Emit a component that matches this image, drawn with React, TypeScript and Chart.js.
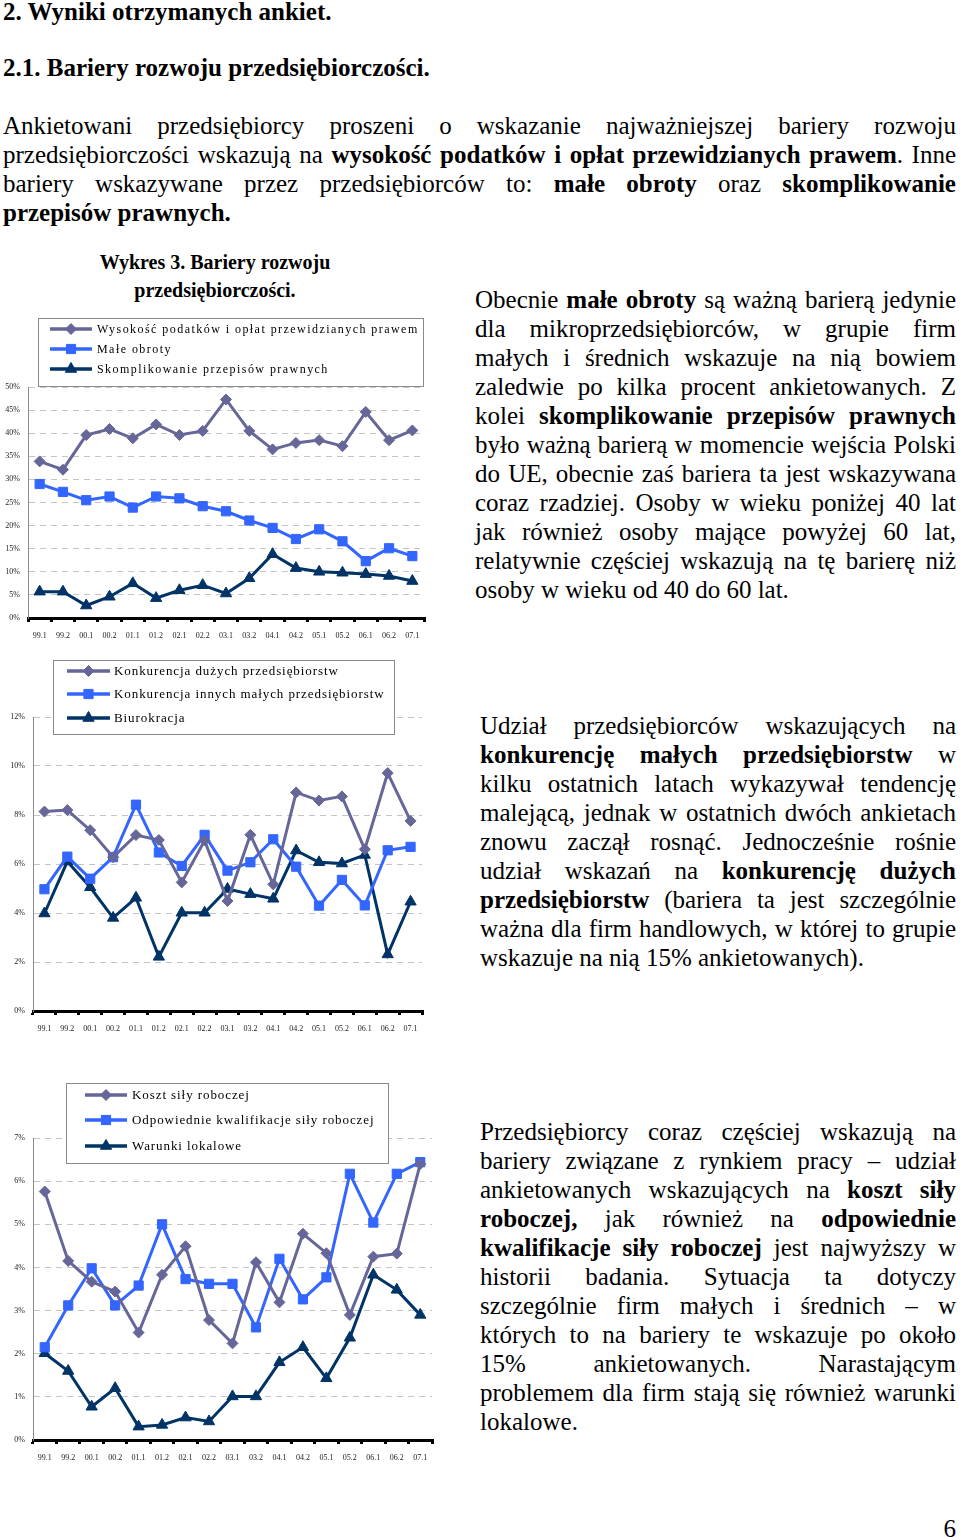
import React, { useEffect, useRef } from 'react';
import { Chart, registerables } from 'chart.js';
import { drawPoint } from 'chart.js/helpers';

Chart.register(...registerables);

// ---------- DATA ----------
const categories = ['99.1', '99.2', '00.1', '00.2', '01.1', '01.2', '02.1', '02.2', '03.1', '03.2', '04.1', '04.2', '05.1', '05.2', '06.1', '06.2', '07.1'];

// Chart 1 – Bariery rozwoju przedsiębiorczości (%)
const chart1Labels = ['Wysokość podatków i opłat przewidzianych prawem', 'Małe obroty', 'Skomplikowanie przepisów prawnych'];
const taxes = [33.9, 32.1, 39.6, 40.9, 38.9, 41.9, 39.6, 40.5, 47.3, 40.5, 36.5, 37.9, 38.5, 37.2, 44.6, 38.5, 40.6];
const lowTurnover = [29.0, 27.3, 25.5, 26.3, 23.9, 26.3, 25.9, 24.2, 23.1, 21.1, 19.5, 17.1, 19.2, 16.6, 12.3, 15.1, 13.4];
const complexLaw = [5.7, 5.7, 2.7, 4.6, 7.5, 4.3, 6.0, 7.1, 5.3, 8.6, 13.8, 10.8, 10.0, 9.8, 9.5, 9.1, 8.0];

// Chart 2
const chart2Labels = ['Konkurencja dużych przedsiębiorstw', 'Konkurencja innych małych przedsiębiorstw', 'Biurokracja'];
const bigCompetition = [8.14, 8.2, 7.38, 6.28, 7.18, 6.98, 5.25, 6.96, 4.49, 7.19, 5.17, 8.92, 8.59, 8.76, 6.6, 9.71, 7.76];
const smallCompetition = [4.97, 6.3, 5.4, 6.28, 8.42, 6.47, 5.92, 7.19, 5.73, 6.07, 7.01, 5.89, 4.3, 5.35, 4.31, 6.56, 6.7];
const bureaucracy = [3.98, 6.1, 5.05, 3.8, 4.62, 2.21, 4.01, 4.01, 4.98, 4.77, 4.58, 6.55, 6.07, 6.02, 6.37, 2.31, 4.46];

// Chart 3
const chart3Labels = ['Koszt siły roboczej', 'Odpowiednie kwalifikacje siły roboczej', 'Warunki lokalowe'];
const laborCost = [5.76, 4.15, 3.67, 3.44, 2.49, 3.83, 4.49, 2.78, 2.24, 4.12, 3.19, 4.78, 4.33, 2.9, 4.25, 4.32, 6.4];
const qualifications = [2.15, 3.12, 3.98, 3.12, 3.58, 5.0, 3.73, 3.62, 3.62, 2.61, 4.2, 3.26, 3.77, 6.17, 5.04, 6.17, 6.44];
const premises = [2.01, 1.6, 0.77, 1.2, 0.31, 0.35, 0.52, 0.43, 1.01, 1.01, 1.8, 2.15, 1.43, 2.37, 3.83, 3.48, 2.9];

// y axis ranges
const chart1YAxis = { max: 50, step: 5 };
const chart2YAxis = { max: 12, step: 2 };
const chart3YAxis = { max: 7, step: 1 };

// ---------- TEXT ----------
const heading1 = '2. Wyniki otrzymanych ankiet.';
const heading2 = '2.1. Bariery rozwoju przedsiębiorczości.';
const introLines = [
  'Ankietowani przedsiębiorcy proszeni o wskazanie najważniejszej bariery rozwoju',
  'przedsiębiorczości wskazują na **wysokość podatków i opłat przewidzianych prawem**. Inne',
  'bariery wskazywane przez przedsiębiorców to: **małe obroty** oraz **skomplikowanie**',
  '**przepisów prawnych.**',
];
const block1Lines = [
  'Obecnie **małe obroty** są ważną barierą jedynie',
  'dla mikroprzedsiębiorców, w grupie firm',
  'małych i średnich wskazuje na nią bowiem',
  'zaledwie po kilka procent ankietowanych. Z',
  'kolei **skomplikowanie przepisów prawnych**',
  'było ważną barierą w momencie wejścia Polski',
  'do UE, obecnie zaś bariera ta jest wskazywana',
  'coraz rzadziej. Osoby w wieku poniżej 40 lat',
  'jak również osoby mające powyżej 60 lat,',
  'relatywnie częściej wskazują na tę barierę niż',
  'osoby w wieku od 40 do 60 lat.',
];
const block2Lines = [
  'Udział przedsiębiorców wskazujących na',
  '**konkurencję małych przedsiębiorstw** w',
  'kilku ostatnich latach wykazywał tendencję',
  'malejącą, jednak w ostatnich dwóch ankietach',
  'znowu zaczął rosnąć. Jednocześnie rośnie',
  'udział wskazań na **konkurencję dużych**',
  '**przedsiębiorstw** (bariera ta jest szczególnie',
  'ważna dla firm handlowych, w której to grupie',
  'wskazuje na nią 15% ankietowanych).',
];
const block3Lines = [
  'Przedsiębiorcy coraz częściej wskazują na',
  'bariery związane z rynkiem pracy – udział',
  'ankietowanych wskazujących na **koszt siły**',
  '**roboczej,** jak również na **odpowiednie**',
  '**kwalifikacje siły roboczej** jest najwyższy w',
  'historii badania. Sytuacja ta dotyczy',
  'szczególnie firm małych i średnich – w',
  'których to na bariery te wskazuje po około',
  '15% ankietowanych. Narastającym',
  'problemem dla firm stają się również warunki',
  'lokalowe.',
];

// ---------- STYLE ----------
const SERIF = "'Liberation Serif', 'Times New Roman', serif";
const COLORS = ['#666699', '#3366FF', '#003366'];
const STYLES = ['rectRot', 'rect', 'triangle'];
const RADII = [5.5, 6.5, 6.5];
const BODY_FONT = 25;

const boxLegend = {
  id: 'boxLegend',
  beforeDatasetsDraw(chart: any, _args: any, opts: any) {
    if (!opts || !opts.box) return;
    const ctx = chart.ctx;
    const box = opts.box;
    ctx.save();
    ctx.fillStyle = '#ffffff';
    ctx.fillRect(box.x, box.y, box.w, box.h);
    ctx.strokeStyle = '#8a8a8a';
    ctx.lineWidth = 1;
    ctx.strokeRect(box.x + 0.5, box.y + 0.5, box.w, box.h);
    chart.data.datasets.forEach((ds: any, i: number) => {
      const ry = opts.rows[i];
      ctx.strokeStyle = ds.borderColor;
      ctx.lineWidth = 3.5;
      ctx.beginPath();
      ctx.moveTo(opts.lineX1, ry);
      ctx.lineTo(opts.lineX2, ry);
      ctx.stroke();
      ctx.fillStyle = ds.backgroundColor;
      ctx.lineWidth = 1;
      drawPoint(ctx, { pointStyle: ds.pointStyle, radius: ds.pointRadius, borderWidth: 1, rotation: 0 } as any, (opts.lineX1 + opts.lineX2) / 2, ry);
      ctx.fillStyle = '#000000';
      ctx.font = opts.font;
      (ctx as any).letterSpacing = opts.spacing + 'px';
      ctx.textBaseline = 'middle';
      ctx.textAlign = 'left';
      ctx.fillText(ds.label, opts.textX, ry + 1);
    });
    ctx.restore();
  },
};

type ChartProps = {
  top: number;
  width: number;
  height: number;
  yWidth: number;
  pad: { top: number; right: number; bottom: number };
  yAxis: { max: number; step: number };
  labels: string[];
  series: number[][];
  legend: any;
};

function LineChart(p: ChartProps) {
  const ref = useRef<HTMLCanvasElement | null>(null);
  useEffect(() => {
    if (!ref.current) return;
    const chart = new Chart(ref.current, {
      type: 'line',
      data: {
        labels: categories,
        datasets: p.series.map((d, i) => ({
          label: p.labels[i],
          data: d,
          borderColor: COLORS[i],
          backgroundColor: COLORS[i],
          pointBackgroundColor: COLORS[i],
          pointBorderColor: COLORS[i],
          pointStyle: STYLES[i] as any,
          pointRadius: RADII[i],
          pointBorderWidth: 1,
          borderWidth: 3,
          tension: 0,
        })),
      },
      options: {
        responsive: false,
        animation: false,
        devicePixelRatio: 1,
        layout: { padding: { top: p.pad.top, right: p.pad.right, bottom: p.pad.bottom, left: 0 } },
        plugins: {
          legend: { display: false },
          tooltip: { enabled: false },
          boxLegend: p.legend,
        } as any,
        scales: {
          x: {
            offset: true,
            grid: { offset: true, drawOnChartArea: false, color: '#000', lineWidth: 3, tickLength: 4 },
            border: { color: '#000', width: 3 },
            ticks: { font: { family: SERIF, size: 8 }, color: '#222', maxRotation: 0, minRotation: 0, autoSkip: false, padding: 9 },
            afterFit: (s: any) => { s.height = 20; },
          },
          y: {
            min: 0,
            max: p.yAxis.max,
            ticks: { stepSize: p.yAxis.step, callback: (v: any) => v + '%', font: { family: SERIF, size: 8 }, color: '#222', padding: 8 },
            grid: { color: '#c4c4c4', drawTicks: false, lineWidth: 1 },
            border: { color: '#8a8a8a', width: 1, dash: [6, 5] } as any,
            afterFit: (s: any) => { s.width = p.yWidth; },
          },
        } as any,
      },
      plugins: [boxLegend],
    });
    return () => chart.destroy();
  }, []);
  return (
    <canvas
      ref={ref}
      width={p.width}
      height={p.height}
      style={{ position: 'absolute', left: 0, top: p.top, width: p.width, height: p.height }}
    />
  );
}

function renderLine(line: string) {
  return line.split('**').map((t, i) =>
    i % 2 === 1 ? <b key={i}>{t}</b> : <span key={i}>{t}</span>
  );
}

function TextBlock({ lines, left, top, width }: { lines: string[]; left: number; top: number; width: number }) {
  return (
    <div style={{ position: 'absolute', left, top, width, fontSize: BODY_FONT, lineHeight: '29px' }}>
      {lines.map((ln, i) => (
        <div
          key={i}
          style={{
            height: 29,
            whiteSpace: 'nowrap',
            textAlign: 'justify',
            textAlignLast: i === lines.length - 1 ? 'left' : 'justify',
          } as any}
        >
          {renderLine(ln)}
        </div>
      ))}
    </div>
  );
}

export default function App() {
  return (
    <div
      style={{
        position: 'absolute',
        left: 0,
        top: 0,
        width: 960,
        height: 1537,
        background: '#fff',
        fontFamily: SERIF,
        color: '#000',
        overflow: 'hidden',
      }}
    >
      <div style={{ position: 'absolute', left: 3, top: -3, fontSize: BODY_FONT, lineHeight: '29px', fontWeight: 'bold' }}>{heading1}</div>
      <div style={{ position: 'absolute', left: 3, top: 53, fontSize: BODY_FONT, lineHeight: '29px', fontWeight: 'bold' }}>{heading2}</div>
      <TextBlock lines={introLines} left={3} top={111} width={953} />

      <div
        style={{
          position: 'absolute',
          left: 0,
          top: 248,
          width: 430,
          textAlign: 'center',
          fontSize: 20,
          lineHeight: '28px',
          fontWeight: 'bold',
        }}
      >
        Wykres 3. Bariery rozwoju
        <br />
        przedsiębiorczości.
      </div>

      <LineChart
        top={300}
        width={440}
        height={350}
        yWidth={28}
        pad={{ top: 87, right: 16, bottom: 12 }}
        yAxis={chart1YAxis}
        labels={chart1Labels}
        series={[taxes, lowTurnover, complexLaw]}
        legend={{ box: { x: 38, y: 18, w: 385, h: 68 }, rows: [29, 49, 69], lineX1: 50, lineX2: 92, textX: 97, font: `12px ${SERIF}`, spacing: 1.45 }}
      />
      <TextBlock lines={block1Lines} left={475} top={285} width={481} />

      <LineChart
        top={650}
        width={440}
        height={400}
        yWidth={33}
        pad={{ top: 67, right: 18, bottom: 19 }}
        yAxis={chart2YAxis}
        labels={chart2Labels}
        series={[bigCompetition, smallCompetition, bureaucracy]}
        legend={{ box: { x: 53, y: 10, w: 341, h: 74 }, rows: [21, 44, 68], lineX1: 67, lineX2: 110, textX: 114, font: `13px ${SERIF}`, spacing: 0.92 }}
      />
      <TextBlock lines={block2Lines} left={480} top={711} width={476} />

      <LineChart
        top={1075}
        width={440}
        height={410}
        yWidth={33}
        pad={{ top: 63, right: 8, bottom: 25 }}
        yAxis={chart3YAxis}
        labels={chart3Labels}
        series={[laborCost, qualifications, premises]}
        legend={{ box: { x: 66, y: 8, w: 322, h: 80 }, rows: [20, 45, 71], lineX1: 85, lineX2: 127, textX: 132, font: `13px ${SERIF}`, spacing: 0.92 }}
      />
      <TextBlock lines={block3Lines} left={480} top={1117} width={476} />

      <div style={{ position: 'absolute', right: 4, top: 1514, fontSize: BODY_FONT, lineHeight: '29px' }}>6</div>
    </div>
  );
}
